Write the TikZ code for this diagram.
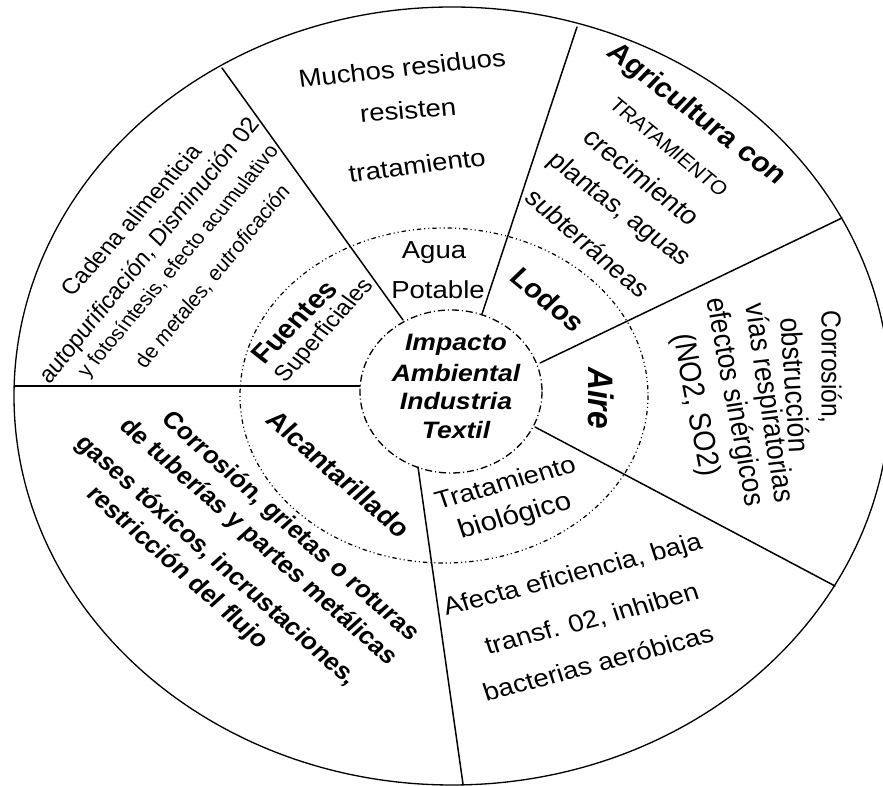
\documentclass[tikz,border=0pt]{standalone}
\usepackage{fontspec}
\setmainfont{Liberation Sans}
\newcommand{\fz}[1]{\fontsize{#1}{#1}\selectfont}
\tikzset{
  lbl/.style={inner sep=0pt, xscale=1.12, font=\fz{14}},
  bld/.style={lbl, font=\bfseries\fz{#1}},
  spoke/.style={line width=0.85pt, line cap=round},
  outerring/.style={line width=0.75pt},
  innerring/.style={line width=0.75pt, dash pattern={on 4pt off 1.7pt on 0.6pt off 1.7pt}},
  midring/.style={line width=0.7pt, dash pattern={on 2.5pt off 1.7pt on 0.6pt off 1.7pt on 0.6pt off 1.7pt}}
}
\begin{document}
\begin{tikzpicture}[x=0.02cm, y=-0.02cm]
\useasboundingbox (0,0) rectangle (883,786);
\fill[white] (0,0) rectangle (883,786);
\clip (0,0) rectangle (883,786);

% rings
\draw[outerring] (452,396) ellipse [x radius=438, y radius=389];
\draw[midring] (444,395.5) ellipse [x radius=204, y radius=167.5];
\draw[innerring] (451,391.5) ellipse [x radius=91, y radius=81.5];

% spoke end points
\coordinate (i1) at (360,386); \coordinate (o1) at (15,386);
\coordinate (i2) at (403,320); \coordinate (o2) at (222,68);
\coordinate (i3) at (482,314); \coordinate (o3) at (577,27);
\coordinate (i4) at (540,363); \coordinate (o4) at (842,218);
\coordinate (i5) at (535,427); \coordinate (o5) at (835,586);
\coordinate (i6) at (418,467); \coordinate (o6) at (463,784);
\foreach \k in {1,...,6} \draw[spoke] (i\k) -- (o\k);

% centre
\node[lbl, font=\bfseries\itshape\fz{13.5}] (c1) at (456,345) {Impacto};
\node[lbl, font=\bfseries\itshape\fz{13.5}] (c2) at (456,373) {Ambiental};
\node[lbl, font=\bfseries\itshape\fz{13.5}] (c3) at (456,401) {Industria};
\node[lbl, font=\bfseries\itshape\fz{13.5}] (c4) at (456,430) {Textil};

% top sector
\node[lbl, rotate=6.9] (m1) at (402,68) {Muchos residuos};
\node[lbl, rotate=5.2] (m2) at (408,110) {resisten};
\node[lbl, rotate=7.9] (m3) at (417,165) {tratamiento};

% agriculture sector
\node[bld=15.5, rotate=-40.6] (a1) at (696,115) {Agricultura con};
\node[lbl, font=\fz{11}, rotate=-42.5] (a2) at (669,147) {TRATAMIENTO};
\node[lbl, font=\fz{14.5}, rotate=-42.2] (a3) at (642,177) {crecimiento};
\node[lbl, rotate=-40.7] (a4) at (619,210) {plantas, aguas};
\node[lbl, rotate=-43.9] (a5) at (588,243) {subterráneas};

% middle ring labels
\node[bld=15, rotate=-42.9] (lo) at (548,300) {Lodos};
\node[lbl] (ag1) at (434,253) {Agua};
\node[lbl] (ag2) at (438,290) {Potable};
\node[bld=15, rotate=48.6] (fu) at (294,322) {Fuentes};
\node[lbl, font=\fz{12.5}, rotate=51.1] (su) at (325,331) {Superficiales};
\node[bld=14.5, rotate=-44.5] (al) at (339,474) {Alcantarillado};
\node[lbl, rotate=17.3] (tr1) at (505,482) {Tratamiento};
\node[lbl, font=\fz{15}, rotate=16.7] (tr2) at (515,517) {biológico};
\node[lbl, font=\bfseries\itshape\fz{18}, rotate=-90] (ai) at (601,398) {Aire};

% bottom-left sector
\node[bld=13.5, rotate=-44.8] (k1) at (290,527) {Corrosión, grietas o roturas};
\node[bld=13.5, rotate=-44.8] (k2) at (258,542) {de tuberías y partes metálicas};
\node[bld=13.5, rotate=-44.8] (k3) at (216,561) {gases tóxicos, incrustaciones,};
\node[bld=13.5, rotate=-44.8] (k4) at (177,568) {restricción del flujo};

% bottom-right sector
\node[lbl, rotate=16.4] (b1) at (573,576) {Afecta eficiencia, baja};
\node[lbl, rotate=16.4] (b2) at (592,620) {transf. 02, inhiben};
\node[lbl, rotate=16.4] (b3) at (598,663) {bacterias aeróbicas};

% right sector
\node[lbl, rotate=-90] (r1) at (830,367) {Corrosión,};
\node[lbl, font=\fz{15}, rotate=-86.7] (r2) at (796,385) {obstrucción};
\node[lbl, font=\fz{15}, rotate=-82.4] (r3) at (768,403) {vías respiratorias};
\node[lbl, font=\fz{15}, rotate=-80.2] (r4) at (734,402) {efectos sinérgicos};
\node[lbl, font=\fz{15.5}, rotate=-80] (r5) at (695,405) {(NO2, SO2)};

% left sector
\node[lbl, font=\fz{12.5}, rotate=51.2] (l1) at (131,220) {Cadena alimenticia};
\node[lbl, font=\fz{12.7}, rotate=54.3] (l2) at (150,251) {\itshape autopurificación, Disminución\upshape\ 02};
\node[lbl, font=\fz{11}, rotate=53] (l3) at (179,262) {y fotosíntesis, efecto acumulativo};
\node[lbl, font=\fz{11.3}, rotate=53.8] (l4) at (213,277) {de \itshape metales, eutroficación};
\end{tikzpicture}
\end{document}
